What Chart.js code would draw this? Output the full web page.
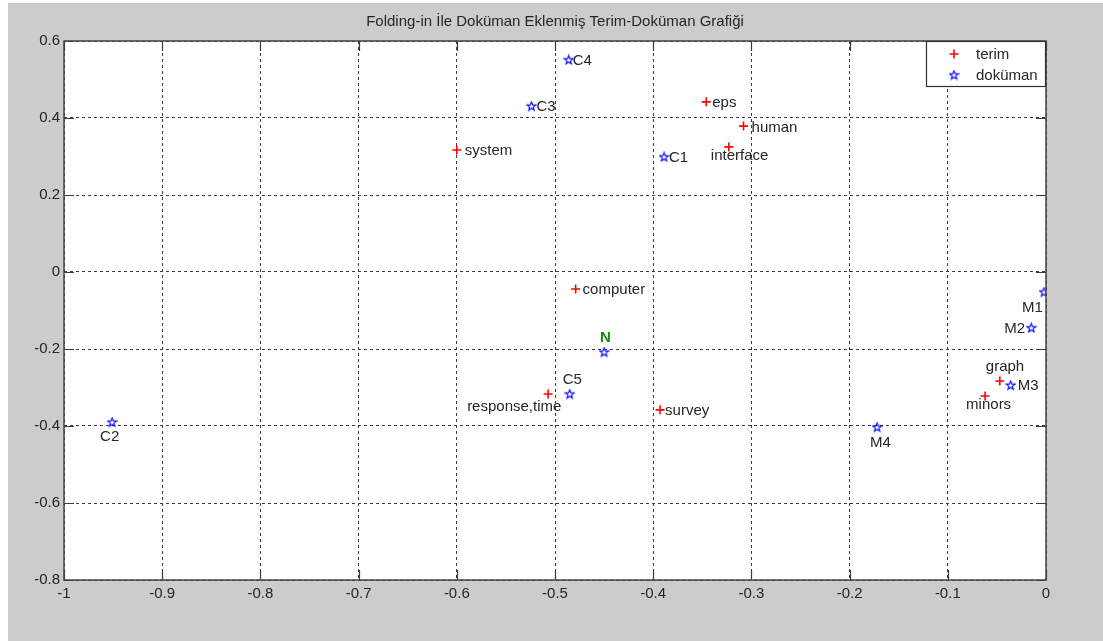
<!DOCTYPE html>
<html>
<head>
<meta charset="utf-8">
<script src="https://cdn.jsdelivr.net/npm/chart.js@4/dist/chart.umd.min.js"></script>
<style>
  html, body { margin: 0; padding: 0; background: #ffffff; }
  #frame { position: absolute; left: 8px; top: 3px; width: 1095px; height: 638px; background: #cccccc; }
  #plot { position: absolute; left: 0; top: 0; }
</style>
</head>
<body>
<div id="frame"></div>
<canvas id="plot" width="1103" height="641"></canvas>
<script>
//############################
//######   Data      ########
//############################

// terms (red +)
const termNames = ["system", "eps", "human", "interface", "computer", "response,time", "survey", "graph", "minors"];
const termX = [-0.600, -0.346, -0.308, -0.323, -0.479, -0.507, -0.393, -0.047, -0.062];
const termY = [0.317, 0.442, 0.379, 0.325, -0.044, -0.317, -0.358, -0.283, -0.322];

// documents (blue pentagram), N is the folded-in one
const docNames = ["C1", "C2", "C3", "C4", "C5", "N", "M1", "M2", "M3", "M4"];
const docX = [-0.389, -0.951, -0.524, -0.486, -0.485, -0.450, -0.002, -0.015, -0.036, -0.172];
const docY = [0.299, -0.390, 0.431, 0.551, -0.317, -0.208, -0.052, -0.145, -0.294, -0.403];

const xTicks = [-1, -0.9, -0.8, -0.7, -0.6, -0.5, -0.4, -0.3, -0.2, -0.1, 0];
const yTicks = [-0.8, -0.6, -0.4, -0.2, 0, 0.2, 0.4, 0.6];

// text placement next to each marker, in pixels [dx, dy]
const termLabelPos = [[8, 1], [6, 1], [8, 2], [-18, 9], [7, 1], [-81, 13], [5, 1], [-14, -14], [-19, 9]];
const docLabelPos = [[5, 1], [-12, 15], [5, 1], [4, 1], [-7, -14], [-4, -14], [-22, 16], [-27, 1], [7, 1], [-7, 16]];

const FONT = "'Liberation Sans', Arial, sans-serif";
const TEXT = "#262626";

// small outlined pentagram like matlab's 'p' marker
function makeStar(color) {
  const c = document.createElement("canvas");
  c.width = 11; c.height = 11;
  const g = c.getContext("2d");
  g.strokeStyle = color;
  g.lineWidth = 1.1;
  g.beginPath();
  for (let i = 0; i < 10; i++) {
    const r = i % 2 === 0 ? 4.6 : 1.9;
    const a = -Math.PI / 2 + i * Math.PI / 5;
    const px = 5.5 + r * Math.cos(a), py = 5.8 + r * Math.sin(a);
    if (i === 0) g.moveTo(px, py); else g.lineTo(px, py);
  }
  g.closePath();
  g.stroke();
  return c;
}
const blueStar = makeStar("#0000ff");

function toPoints(xs, ys) {
  return xs.map(function (x, i) { return { x: x, y: ys[i] }; });
}

//############################
//######   Plugins   ########
//############################

// white axes area, title, box and inward ticks (matlab look)
const axesBox = {
  id: "axesBox",
  beforeDraw: function (chart) {
    const a = chart.chartArea, ctx = chart.ctx;
    ctx.save();
    ctx.fillStyle = "#ffffff";
    ctx.fillRect(a.left, a.top, a.right - a.left, a.bottom - a.top);
    ctx.restore();
  },
  afterDraw: function (chart) {
    const a = chart.chartArea, ctx = chart.ctx;
    const xs = chart.scales.x, ys = chart.scales.y;
    const len = 10;
    ctx.save();
    ctx.strokeStyle = "#3a3a3a";
    ctx.lineWidth = 1.2;
    ctx.beginPath();
    xTicks.forEach(function (t) {
      const px = Math.round(xs.getPixelForValue(t)) + 0.5;
      ctx.moveTo(px, a.bottom); ctx.lineTo(px, a.bottom - len);
      ctx.moveTo(px, a.top); ctx.lineTo(px, a.top + len);
    });
    yTicks.forEach(function (t) {
      const py = Math.round(ys.getPixelForValue(t)) + 0.5;
      ctx.moveTo(a.left, py); ctx.lineTo(a.left + len, py);
      ctx.moveTo(a.right, py); ctx.lineTo(a.right - len, py);
    });
    ctx.stroke();
    ctx.strokeStyle = "#444444";
    ctx.lineWidth = 1.5;
    ctx.strokeRect(a.left, a.top, a.right - a.left, a.bottom - a.top);

    ctx.fillStyle = TEXT;
    ctx.font = "15px " + FONT;
    ctx.textAlign = "center";
    ctx.textBaseline = "middle";
    ctx.fillText("Folding-in İle Doküman Eklenmiş Terim-Doküman Grafiği", (a.left + a.right) / 2, 22);
    ctx.restore();
  }
};

// names written beside the markers
const pointNames = {
  id: "pointNames",
  afterDatasetsDraw: function (chart) {
    const ctx = chart.ctx;
    ctx.save();
    ctx.textAlign = "left";
    ctx.textBaseline = "middle";
    chart.data.datasets.forEach(function (ds, d) {
      const meta = chart.getDatasetMeta(d);
      meta.data.forEach(function (el, i) {
        const off = ds.labelPos[i];
        const name = ds.names[i];
        if (name === "N") {
          ctx.font = "bold 15px " + FONT;
          ctx.fillStyle = "#138a13";
        } else {
          ctx.font = "15px " + FONT;
          ctx.fillStyle = TEXT;
        }
        ctx.fillText(name, el.x + off[0], el.y + off[1]);
      });
    });
    ctx.restore();
  }
};

// legend box in the upper right corner
const cornerLegend = {
  id: "cornerLegend",
  afterDraw: function (chart) {
    const a = chart.chartArea, ctx = chart.ctx;
    const w = 120, h = 46;
    const x0 = a.right - w, y0 = a.top;
    ctx.save();
    ctx.fillStyle = "#ffffff";
    ctx.fillRect(x0, y0, w, h);
    ctx.strokeStyle = "#333333";
    ctx.lineWidth = 1.2;
    ctx.strokeRect(x0 + 0.5, y0 + 0.5, w - 1, h - 1);
    ctx.font = "15px " + FONT;
    ctx.textAlign = "left";
    ctx.textBaseline = "middle";
    chart.data.datasets.forEach(function (ds, i) {
      const ry = y0 + 13 + i * 21;
      ctx.strokeStyle = ds.borderColor;
      ctx.fillStyle = ds.backgroundColor;
      ctx.lineWidth = ds.borderWidth;
      Chart.helpers.drawPoint(ctx, {
        pointStyle: ds.pointStyle, radius: ds.pointRadius,
        borderWidth: ds.borderWidth, rotation: 0
      }, x0 + 28, ry);
      ctx.fillStyle = TEXT;
      ctx.fillText(ds.label, x0 + 50, ry + 1);
    });
    ctx.restore();
  }
};

//############################
//######   Chart     ########
//############################

const config = {
  type: "scatter",
  data: {
    datasets: [
      {
        label: "terim",
        names: termNames,
        labelPos: termLabelPos,
        data: toPoints(termX, termY),
        pointStyle: "cross",
        pointRadius: 4.5,
        pointHoverRadius: 4.5,
        borderWidth: 1.6,
        borderColor: "#ff0000",
        backgroundColor: "#ff0000"
      },
      {
        label: "doküman",
        names: docNames,
        labelPos: docLabelPos,
        data: toPoints(docX, docY),
        pointStyle: blueStar,
        pointRadius: 5,
        pointHoverRadius: 5,
        borderWidth: 1,
        borderColor: "#0000ff",
        backgroundColor: "#0000ff"
      }
    ]
  },
  options: {
    responsive: false,
    animation: false,
    layout: { padding: { left: 0, top: 41, right: 57, bottom: 0 } },
    plugins: {
      legend: { display: false },
      tooltip: { enabled: false },
      title: { display: false }
    },
    scales: {
      x: {
        type: "linear",
        min: -1,
        max: 0,
        afterFit: function (s) { s.height = 61; },
        afterBuildTicks: function (s) { s.ticks = xTicks.map(function (v) { return { value: v }; }); },
        ticks: {
          padding: 5,
          color: TEXT,
          font: { family: FONT, size: 15 },
          maxRotation: 0,
          callback: function (v) { return String(Number(v.toFixed(1))); }
        },
        grid: { color: "#3c3c3c", lineWidth: 1, drawTicks: false },
        border: { display: false, dash: [3, 3] }
      },
      y: {
        type: "linear",
        min: -0.8,
        max: 0.6,
        afterFit: function (s) { s.width = 64; },
        afterBuildTicks: function (s) { s.ticks = yTicks.map(function (v) { return { value: v }; }); },
        ticks: {
          padding: 4,
          color: TEXT,
          font: { family: FONT, size: 15 },
          callback: function (v) { return String(Number(v.toFixed(1))); }
        },
        grid: { color: "#3c3c3c", lineWidth: 1, drawTicks: false },
        border: { display: false, dash: [3, 3] }
      }
    }
  },
  plugins: [axesBox, pointNames, cornerLegend]
};

const myScatter = new Chart(document.getElementById("plot"), config);
</script>
</body>
</html>
